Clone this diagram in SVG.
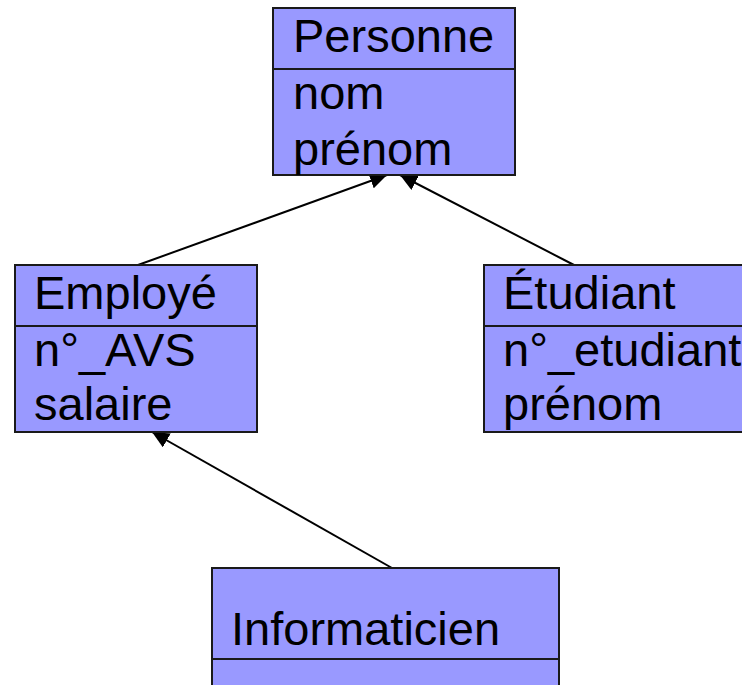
<svg xmlns="http://www.w3.org/2000/svg" width="742" height="685" viewBox="0 0 742 685">
<defs>
<style>
.box{fill:#9999FF;stroke:#1a1a1a;stroke-width:2}
.div{stroke:#1a1a1a;stroke-width:2}
.t{font-family:"Liberation Sans",Arial,sans-serif;font-size:47px;fill:#000}
.c{stroke:#000;stroke-width:2;fill:none}
</style>
<marker id="ah" viewBox="0 0 17 16" refX="17" refY="8" markerWidth="17" markerHeight="16" markerUnits="userSpaceOnUse" orient="auto">
<path d="M0,0 L17,8 L0,16 z" fill="#000"/>
</marker>
</defs>
<rect width="742" height="685" fill="#fff"/>
<g id="connectors">
<line class="c" x1="138" y1="265" x2="387" y2="175" marker-end="url(#ah)"/>
<line class="c" x1="574" y1="265" x2="400" y2="175" marker-end="url(#ah)"/>
<line class="c" x1="392" y1="568" x2="152" y2="432" marker-end="url(#ah)"/>
</g>
<g id="personne">
<rect class="box" x="273" y="8" width="242" height="167"/>
<line class="div" x1="273" y1="69" x2="515" y2="69"/>
<text class="t" x="293" y="52">Personne</text>
<text class="t" x="293" y="109">nom</text>
<text class="t" x="293" y="165">prénom</text>
</g>
<g id="employe">
<rect class="box" x="15" y="265" width="242" height="167"/>
<line class="div" x1="15" y1="326" x2="257" y2="326"/>
<text class="t" x="34" y="309">Employé</text>
<text class="t" x="34" y="366">n°_AVS</text>
<text class="t" x="34" y="420">salaire</text>
</g>
<g id="etudiant">
<rect class="box" x="484" y="265" width="280" height="167"/>
<line class="div" x1="484" y1="326" x2="764" y2="326"/>
<text class="t" x="503" y="309">Étudiant</text>
<text class="t" x="503" y="366">n°_etudiant</text>
<text class="t" x="503" y="420">prénom</text>
</g>
<g id="informaticien">
<rect class="box" x="212" y="568" width="347" height="140"/>
<line class="div" x1="212" y1="659" x2="559" y2="659"/>
<text class="t" x="231" y="645">Informaticien</text>
</g>
</svg>
